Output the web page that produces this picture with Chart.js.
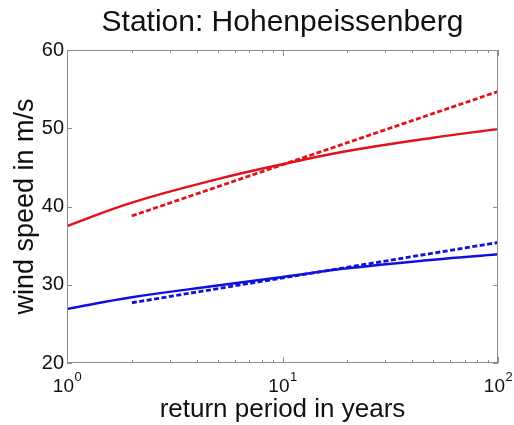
<!DOCTYPE html>
<html>
<head>
<meta charset="utf-8">
<script src="https://cdn.jsdelivr.net/npm/chart.js@4/dist/chart.umd.min.js"></script>
<style>
  html, body { margin: 0; padding: 0; background: #fff; }
  #wrap { width: 514px; height: 425px; }
</style>
</head>
<body>
<div id="wrap"><canvas id="c" width="514" height="425"></canvas></div>
<script>
// Return periods (years) and fitted wind speeds (m/s)
const periods = [1, 2, 5, 10, 20, 50, 100];
const redFit = [37.5, 40.5, 43.5, 45.4, 47.1, 48.8, 49.9];
const blueFit = [26.9, 28.4, 29.9, 31.0, 32.1, 33.2, 33.9];
const trendPeriods = [2, 100];
const redTrend = [38.8, 54.7];
const blueTrend = [27.7, 35.4];

// Axis ticks
const xMajor = [1, 10, 100];
const xMajorExp = ['0', '1', '2'];
const xMinor = [2, 3, 4, 5, 6, 7, 8, 9, 20, 30, 40, 50, 60, 70, 80, 90];
const yTicks = [20, 30, 40, 50, 60];

const RED = '#e4101a';
const BLUE = '#1010dc';
const FONT = 'Liberation Sans, Arial, sans-serif';

const pts = (xs, ys) => xs.map((x, i) => ({ x: x, y: ys[i] }));

// Inward ticks, boxed axes and superscript decade labels
const boxPlugin = {
  id: 'box',
  afterDraw(chart) {
    const { ctx, chartArea: a, scales: { x, y } } = chart;
    ctx.save();
    ctx.strokeStyle = '#8c8c8c';
    ctx.lineWidth = 1;
    ctx.strokeRect(a.left + 0.5, a.top + 0.5, a.right - a.left - 1, a.bottom - a.top - 1);
    ctx.beginPath();
    const tick = (v, len) => {
      const px = Math.round(x.getPixelForValue(v)) + 0.5;
      ctx.moveTo(px, a.bottom); ctx.lineTo(px, a.bottom - len);
      ctx.moveTo(px, a.top); ctx.lineTo(px, a.top + len);
    };
    xMajor.forEach(v => tick(v, 6));
    xMinor.forEach(v => tick(v, 3));
    yTicks.forEach(v => {
      const py = Math.round(y.getPixelForValue(v)) + 0.5;
      ctx.moveTo(a.left, py); ctx.lineTo(a.left + 5, py);
      ctx.moveTo(a.right, py); ctx.lineTo(a.right - 5, py);
    });
    ctx.stroke();

    ctx.fillStyle = '#111';
    ctx.textBaseline = 'alphabetic';
    ctx.textAlign = 'left';
    xMajor.forEach((v, i) => {
      const px = x.getPixelForValue(v);
      ctx.font = '19px ' + FONT;
      const wb = ctx.measureText('10').width;
      ctx.font = '13px ' + FONT;
      const we = ctx.measureText(xMajorExp[i]).width;
      const left = px - (wb + we) / 2;
      ctx.font = '19px ' + FONT;
      ctx.fillText('10', left, 392);
      ctx.font = '13px ' + FONT;
      ctx.fillText(xMajorExp[i], left + wb + 0.5, 381);
    });
    ctx.restore();
  }
};

new Chart(document.getElementById('c'), {
  type: 'line',
  data: {
    datasets: [
      { data: pts(periods, redFit), borderColor: RED, borderWidth: 2.5, tension: 0.4 },
      { data: pts(trendPeriods, redTrend), borderColor: RED, borderWidth: 2.8, borderDash: [5, 2.5] },
      { data: pts(periods, blueFit), borderColor: BLUE, borderWidth: 2.5, tension: 0.4 },
      { data: pts(trendPeriods, blueTrend), borderColor: BLUE, borderWidth: 2.8, borderDash: [5, 2.5] }
    ]
  },
  options: {
    responsive: false,
    animation: false,
    layout: { padding: { top: 0, right: 16, bottom: 0, left: 0 } },
    elements: {
      point: { radius: 0 },
      line: { fill: false }
    },
    plugins: {
      legend: { display: false },
      tooltip: { enabled: false },
      title: {
        display: true,
        fullSize: false,
        text: 'Station: Hohenpeissenberg',
        font: { family: FONT, size: 30, weight: 'normal' },
        color: '#111',
        padding: { top: 5, bottom: 9 }
      }
    },
    scales: {
      x: {
        type: 'logarithmic',
        min: 1,
        max: 100,
        grid: { display: false, drawTicks: false },
        border: { display: false },
        ticks: { display: false },
        title: {
          display: true,
          text: 'return period in years',
          font: { family: FONT, size: 26 },
          color: '#111',
          padding: { top: 0, bottom: 0 }
        },
        afterFit(s) { s.height = 62; }
      },
      y: {
        min: 20,
        max: 60,
        grid: { display: false, drawTicks: false },
        border: { display: false },
        ticks: {
          stepSize: 10,
          font: { family: FONT, size: 20 },
          color: '#111',
          padding: 3
        },
        title: {
          display: true,
          text: 'wind speed in m/s',
          font: { family: FONT, size: 27 },
          color: '#111',
          padding: { top: 9, bottom: 0 }
        },
        afterFit(s) { s.width = 67; }
      }
    }
  },
  plugins: [boxPlugin]
});
</script>
</body>
</html>
